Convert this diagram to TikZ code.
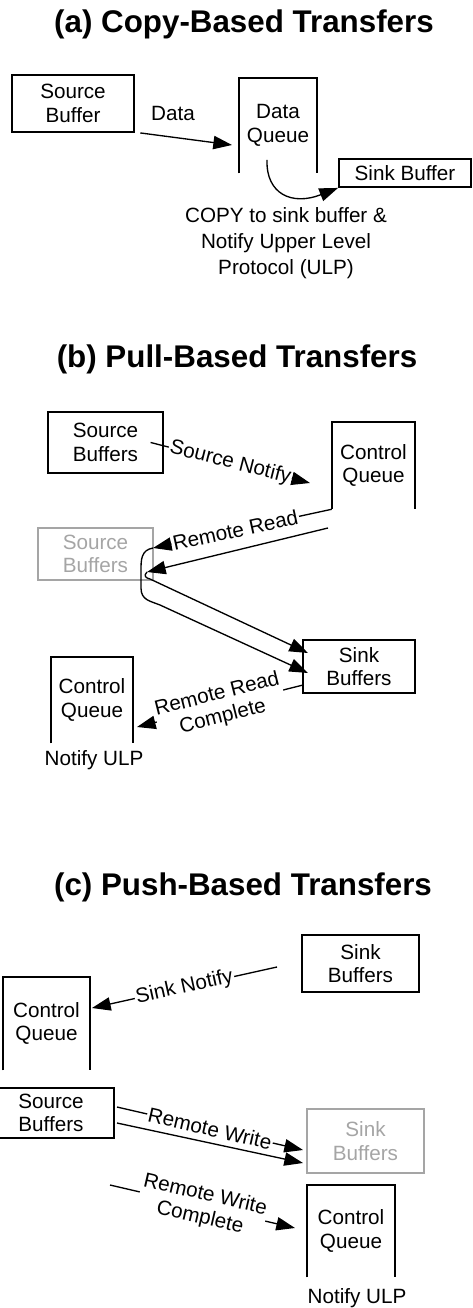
\documentclass[tikz,border=0pt]{standalone}
\usepackage{fontspec}
\setmainfont{Liberation Sans}
\usetikzlibrary{arrows.meta}
\definecolor{ghostgray}{RGB}{165,165,165}
\tikzset{
  buf/.style={draw, line width=1.4pt, align=center, inner sep=0pt, font=\fontsize{15.5}{17.5}\selectfont},
  ghost/.style={buf, draw=ghostgray, text=ghostgray},
  queue/.style={align=center, inner sep=0pt, font=\fontsize{15.5}{17.5}\selectfont},
  qline/.style={line width=1.4pt},
  heading/.style={anchor=base, font=\bfseries\fontsize{23.5}{28}\selectfont},
  txt/.style={align=center, inner sep=0pt, font=\fontsize{15.5}{19.3}\selectfont},
  lbl/.style={fill=white, inner sep=1pt, align=center, font=\fontsize{15.5}{17.5}\selectfont},
  arr/.style={line width=1pt, -{Triangle[length=14pt,width=10pt]}},
}

\begin{document}
\begin{tikzpicture}[x=0.75pt,y=0.75pt,yscale=-1,xscale=1]
\useasboundingbox (0,0) rectangle (473,1308);

% Text Node
\node[heading] (titleA) at (244,33) {(a) Copy-Based Transfers};
% Text Node
\node[buf, minimum width=91.5pt, minimum height=42.75pt] (srcA) at (73,103.5) {Source\\Buffer};
% Text Node
\node[queue, minimum width=58.5pt, minimum height=71.25pt] (dqA) at (278,125.5) {Data\\Queue};
\draw[qline] (dqA.south west) -- (dqA.north west) -- (dqA.north east) -- (dqA.south east);
% Text Node
\node[buf, minimum width=99pt, minimum height=21pt] (snkA) at (405,173) {Sink Buffer};
% Text Node
\node[txt] (dataLbl) at (173,113) {Data};
% Text Node
\node[txt] (copyLbl) at (286,243) {COPY to sink buffer \&\\Notify Upper Level\\Protocol (ULP)};
\coordinate (dataEnd) at (232,145);
\coordinate (copyStart) at (267,160);
% Connection
\draw[arr] ([xshift=4pt]srcA.south east) -- (dataEnd);
% Connection
\draw[arr] (copyStart) .. controls (266,194) and (292,206) .. (snkA.south west);

% Text Node
\node[heading] (titleB) at (237,368) {(b) Pull-Based Transfers};
% Text Node
\node[buf, minimum width=86.25pt, minimum height=45.75pt] (srcB) at (105.5,442.5) {Source\\Buffers};
% Text Node
\node[queue, minimum width=62.25pt, minimum height=65.25pt] (cqB) at (373.5,465.5) {Control\\Queue};
\draw[qline] (cqB.south west) -- (cqB.north west) -- (cqB.north east) -- (cqB.south east);
% Text Node
\node[ghost, minimum width=86.25pt, minimum height=39pt] (srcB2) at (95.5,554) {Source\\Buffers};
% Text Node
\node[buf, minimum width=84pt, minimum height=39.75pt] (snkB) at (359,666.5) {Sink\\Buffers};
% Text Node
\node[queue, minimum width=61.5pt, minimum height=64.5pt] (cqB2) at (92,700) {Control\\Queue};
\draw[qline] (cqB2.south west) -- (cqB2.north west) -- (cqB2.north east) -- (cqB2.south east);
% Text Node
\node[txt] (ulpB) at (94,760) {Notify ULP};
\coordinate (snEnd) at (310,483);
\coordinate (rrTip) at (153,548);
\coordinate (rrFrom) at (328,528);
\coordinate (rrTip2) at (147,572);
\coordinate (snkBhi) at (308,653);
\coordinate (snkBlo) at (308,673);
\coordinate (rrcFrom) at (303,685);
\coordinate (rrcTip) at (137,727);
% Connection
\draw[arr] ([xshift=-10pt]srcB.east) -- node[lbl, rotate=-14.2] (srcNotify) {Source Notify} (snEnd);
% Connection
\draw[arr] (cqB.south west) -- node[lbl, pos=0.54, rotate=12.3] (remRead) {Remote Read} (rrTip);
\draw[arr] (rrFrom) -- (rrTip2);
% Connection
\draw[arr] (rrTip) .. controls (141,550) and (141,560) .. (141,570) -- (141,588) .. controls (141,600) and (150,601) .. (160,605) -- (snkBlo);
\draw[arr] (rrTip2) .. controls (143,576) and (146,578) .. (150,579) -- (snkBhi);
% Connection
\draw[arr] (rrcFrom) -- node[lbl, rotate=14.2] (rrComplete) {Remote Read\\Complete} (rrcTip);

% Text Node
\node[heading] (titleC) at (243,895) {(c) Push-Based Transfers};
% Text Node
\node[buf, minimum width=87.75pt, minimum height=42.75pt] (snkC) at (360.5,963.5) {Sink\\Buffers};
% Text Node
\node[queue, minimum width=65.25pt, minimum height=69.75pt] (cqC) at (46.5,1023.5) {Control\\Queue};
\draw[qline] (cqC.south west) -- (cqC.north west) -- (cqC.north east) -- (cqC.south east);
% Text Node
\node[buf, minimum width=94.5pt, minimum height=37.5pt] (srcC) at (51,1113) {Source\\Buffers};
% Text Node
\node[ghost, minimum width=87.75pt, minimum height=48pt] (snkC2) at (365.5,1141) {Sink\\Buffers};
% Text Node
\node[queue, minimum width=66pt, minimum height=69pt] (cqC2) at (351,1231) {Control\\Queue};
\draw[qline] (cqC2.south west) -- (cqC2.north west) -- (cqC2.north east) -- (cqC2.south east);
% Text Node
\node[txt] (ulpC) at (357,1298) {Notify ULP};
\coordinate (snFrom) at (277,967);
\coordinate (snTip) at (92,1008);
\coordinate (rwFrom) at (117,1107);
\coordinate (rwTip) at (303,1150);
\coordinate (rwFrom2) at (117,1123);
\coordinate (rwTip2) at (303,1163);
\coordinate (rwcFrom) at (110,1185);
\coordinate (rwcTip) at (295,1228);
% Connection
\draw[arr] (snFrom) -- node[lbl, rotate=12.5] (sinkNotify) {Sink Notify} (snTip);
% Connection
\draw[arr] (rwFrom) -- node[lbl, rotate=-13] (remWrite) {Remote Write} (rwTip);
\draw[arr] (rwFrom2) -- (rwTip2);
% Connection
\draw[arr] (rwcFrom) -- node[lbl, rotate=-13.1] (rwComplete) {Remote Write\\Complete} (rwcTip);

\end{tikzpicture}
\end{document}
